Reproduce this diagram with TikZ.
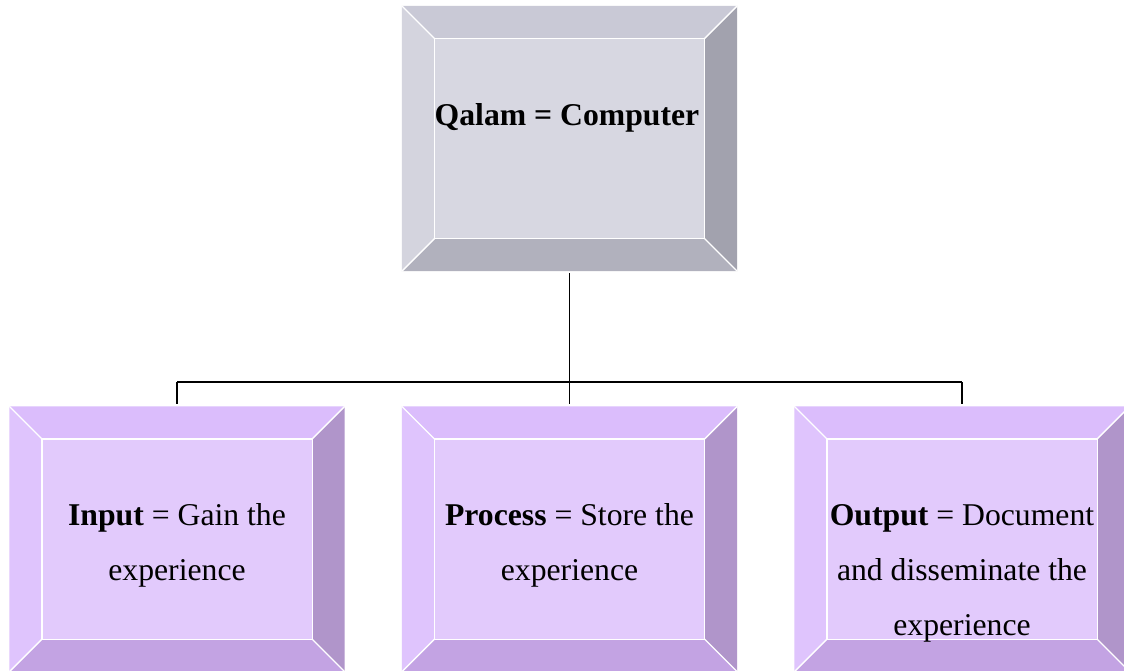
\documentclass[tikz,border=0pt]{standalone}
\usepackage{fontspec}
\setmainfont{Liberation Serif}
\usetikzlibrary{calc}
\definecolor{gTop}{HTML}{C9C9D6}
\definecolor{gLeft}{HTML}{D4D4DE}
\definecolor{gFace}{HTML}{D7D7E1}
\definecolor{gRight}{HTML}{A2A2AE}
\definecolor{gBottom}{HTML}{B1B1BD}
\definecolor{pTop}{HTML}{DBBDFC}
\definecolor{pLeft}{HTML}{DFC4FD}
\definecolor{pFace}{HTML}{E2CAFC}
\definecolor{pRight}{HTML}{B095CA}
\definecolor{pBottom}{HTML}{C3A3E3}
\newcommand\bevelbox[6]{%
  \fill[#2] (#1.north west) -- (#1.north east) -- ($(#1.north east)+(-32.5,32.5)$) -- ($(#1.north west)+(32.5,32.5)$) -- cycle;
  \fill[#3] (#1.north west) -- ($(#1.north west)+(32.5,32.5)$) -- ($(#1.south west)+(32.5,-32.5)$) -- (#1.south west) -- cycle;
  \fill[#4] (#1.north east) -- ($(#1.north east)+(-32.5,32.5)$) -- ($(#1.south east)+(-32.5,-32.5)$) -- (#1.south east) -- cycle;
  \fill[#5] (#1.south west) -- ($(#1.south west)+(32.5,-32.5)$) -- ($(#1.south east)+(-32.5,-32.5)$) -- (#1.south east) -- cycle;
  \fill[#6] ($(#1.north west)+(32.5,32.5)$) rectangle ($(#1.south east)+(-32.5,-32.5)$);
  \draw[white, line width=1.4pt] ($(#1.north west)+(32.5,32.5)$) rectangle ($(#1.south east)+(-32.5,-32.5)$);
  \draw[white, line width=1.4pt] (#1.north west) -- ($(#1.north west)+(32.5,32.5)$)
    (#1.north east) -- ($(#1.north east)+(-32.5,32.5)$)
    (#1.south west) -- ($(#1.south west)+(32.5,-32.5)$)
    (#1.south east) -- ($(#1.south east)+(-32.5,-32.5)$);
}
\newcommand\txtlines[1]{\vtop{\hsize=330pt\parindent=0pt\centering #1\par}}
\begin{document}
\begin{tikzpicture}[x=1pt,y=-1pt,
  outerbox/.style={draw=none, inner sep=0pt, minimum width=335pt, minimum height=265pt},
  lbl/.style={inner sep=0pt, anchor=base, font=\fontsize{31.7}{55}\selectfont},
  conn/.style={draw=black, line width=1.8pt}]
\useasboundingbox (0,0) rectangle (1124,670);
\fill[white] (0,0) rectangle (1124,670);
\node[outerbox] (qalam) at (569.5,138.5) {};
\node[outerbox] (input) at (177,539) {};
\node[outerbox] (process) at (569.5,539) {};
\node[outerbox] (output) at (962,539) {};
\bevelbox{qalam}{gTop}{gLeft}{gRight}{gBottom}{gFace}
\bevelbox{input}{pTop}{pLeft}{pRight}{pBottom}{pFace}
\bevelbox{process}{pTop}{pLeft}{pRight}{pBottom}{pFace}
\bevelbox{output}{pTop}{pLeft}{pRight}{pBottom}{pFace}
\node[lbl] (qalamtext) at (567,125) {\txtlines{\bfseries Qalam = Computer}};
\node[lbl] (inputtext) at (177,525.5) {\txtlines{\textbf{Input} = Gain the\\experience}};
\node[lbl] (processtext) at (569.5,525.5) {\txtlines{\textbf{Process} = Store the\\experience}};
\node[lbl] (outputtext) at (962,525.5) {\txtlines{\textbf{Output} = Document\\and disseminate the\\experience}};
\coordinate (bus) at (569.5,382);
\draw[conn, shorten <=2pt] (qalam.south) -- (bus);
\draw[conn, shorten >=2pt] (bus) -- (process.north);
\draw[conn, shorten >=2pt] (input.north |- bus) -- (input.north);
\draw[conn, shorten >=2pt] (output.north |- bus) -- (output.north);
\draw[conn] (input.north |- bus) -- (output.north |- bus);
\end{tikzpicture}
\end{document}
